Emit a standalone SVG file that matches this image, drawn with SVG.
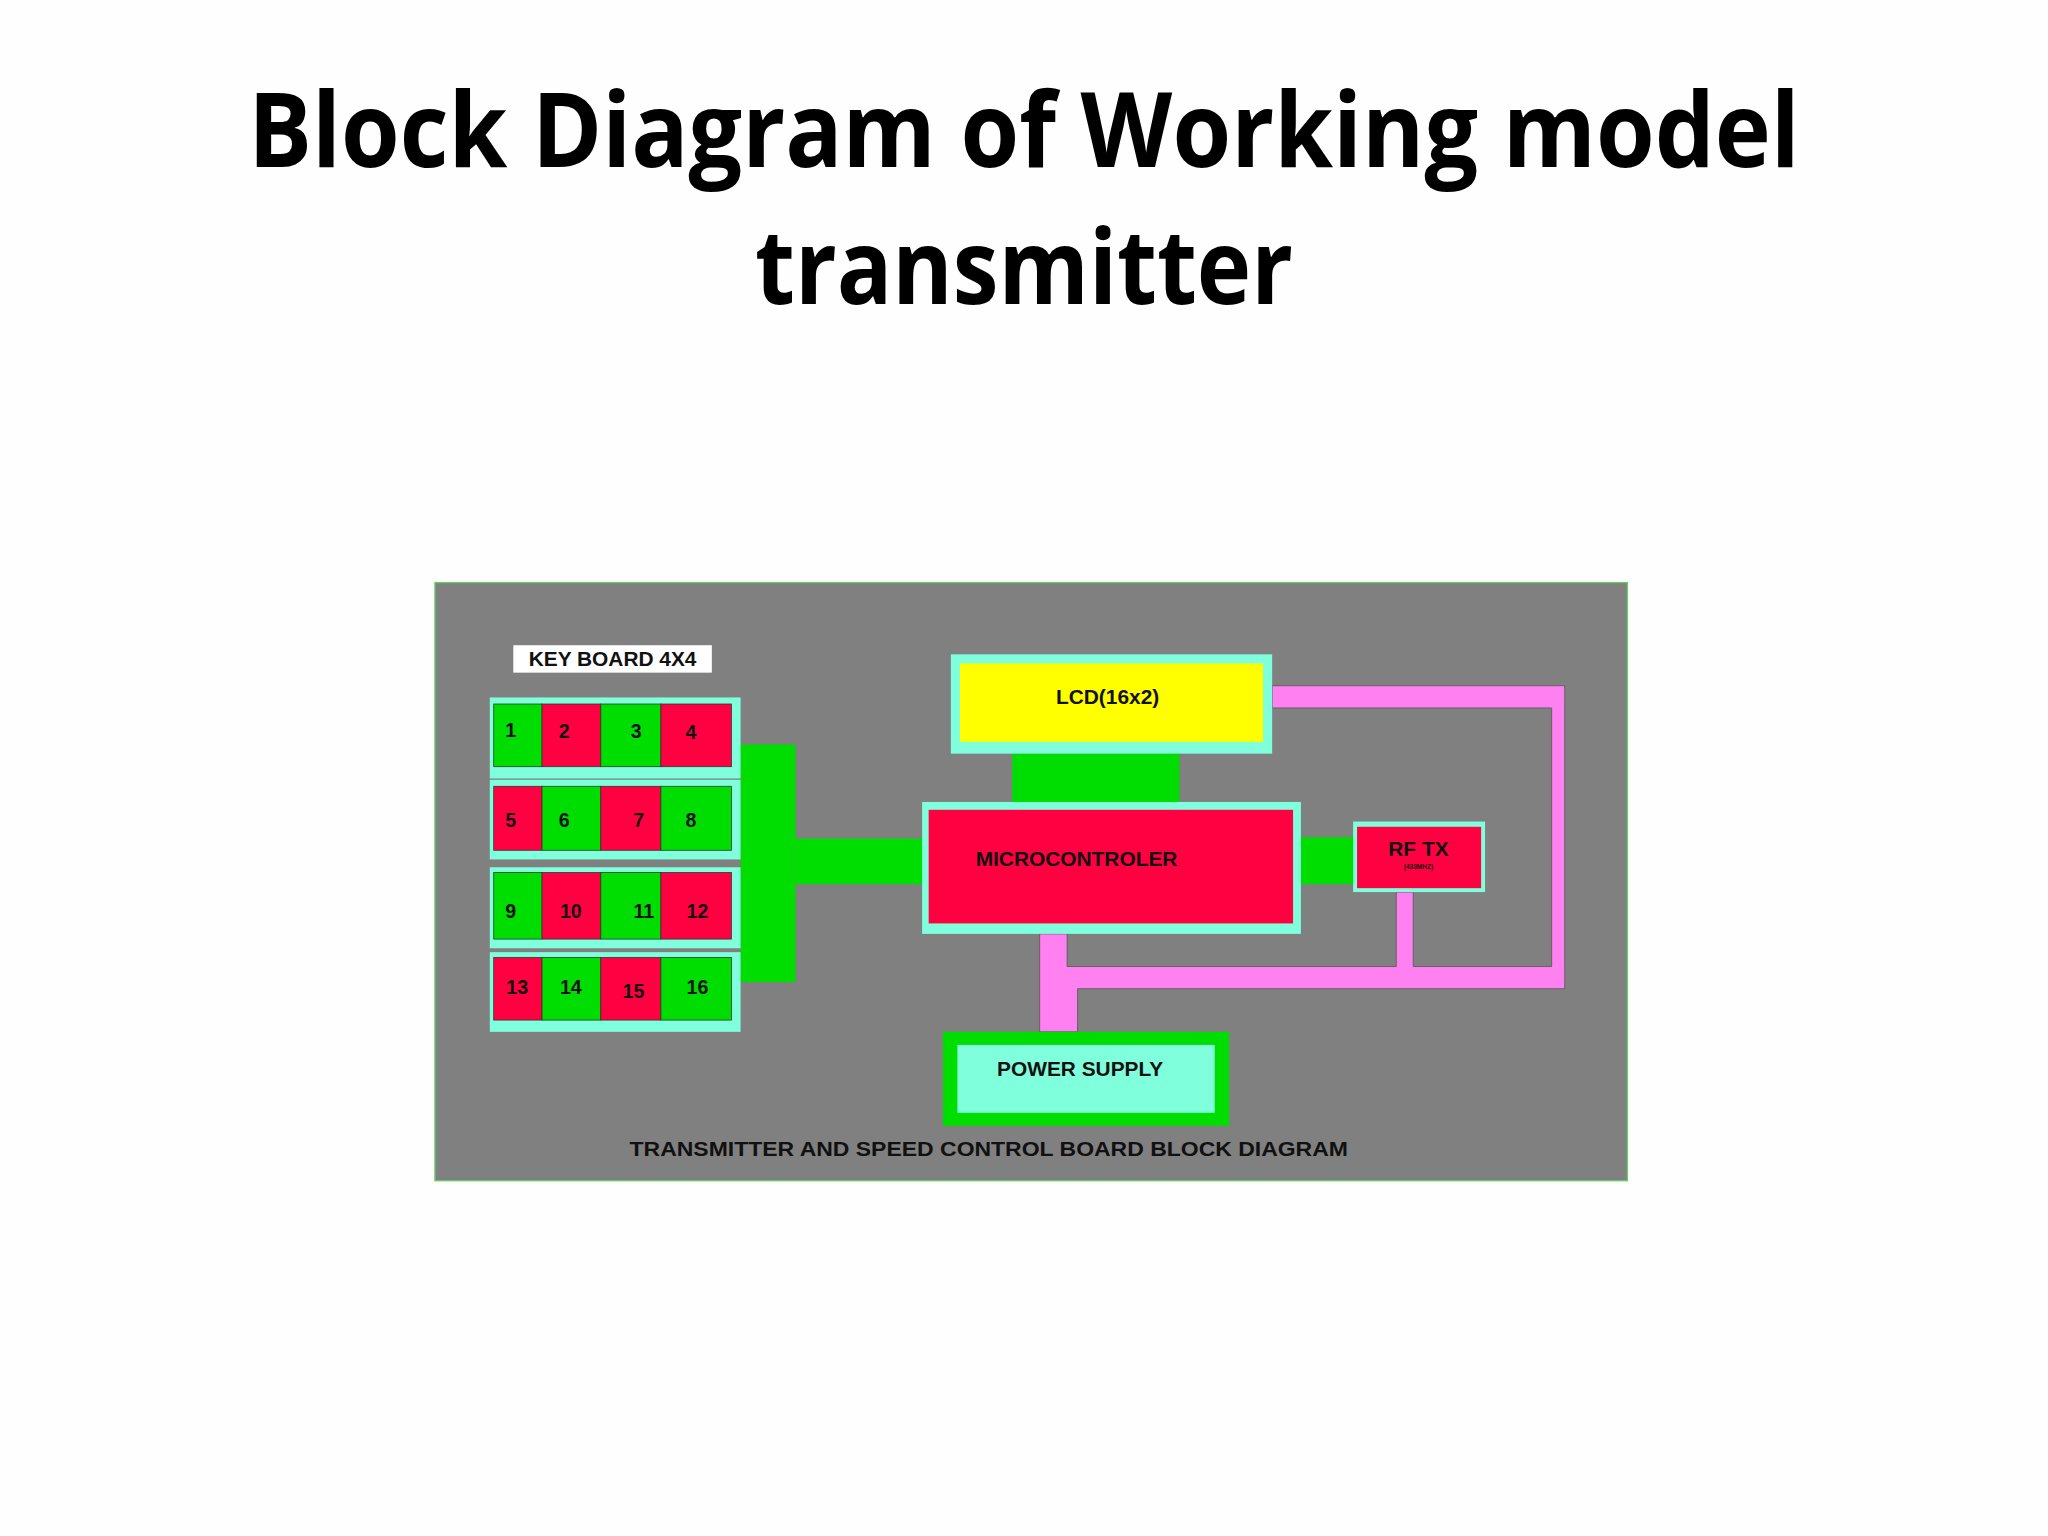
<svg xmlns="http://www.w3.org/2000/svg" width="2048" height="1536" viewBox="0 0 2048 1536">
<style>
.t{font-family:"Open Sans","Liberation Sans",sans-serif;font-weight:bold;fill:#000;text-anchor:middle}
.l{font-family:"Liberation Sans",Arial,sans-serif;font-weight:bold;fill:#111}
.g{fill:#00dd00}.r{fill:#ff0040}.a{fill:#80ffdd}.p{fill:#ff80f0}
.k{stroke:#333;stroke-width:0.6}
</style>
<rect width="2048" height="1536" fill="#fefefe"/>
<g transform="scale(1.30612)">
<g id="title">
<text class="t" x="784" y="128" font-size="80" textLength="1188" lengthAdjust="spacingAndGlyphs">Block Diagram of Working model</text>
<text class="t" x="784" y="233" font-size="80" textLength="412" lengthAdjust="spacingAndGlyphs">transmitter</text>
</g>
<rect id="panel" x="333" y="446" width="913" height="458" fill="#808080" stroke="#66cc66" stroke-width="1"/>
<g id="connectors">
<rect class="g" x="567" y="570" width="42" height="182"/>
<rect class="g" x="609" y="642" width="98" height="35"/>
<rect class="g" x="775" y="577" width="128" height="38"/>
<rect class="g" x="996" y="641" width="41" height="36"/>
<path class="p" d="M974 525H1198V757H825V790H796V715H817V740H1069V683H1082V740H1188V542H974Z" stroke="#555" stroke-width="0.6"/>
</g>
<g id="keyboard">
<rect x="393" y="494" width="152" height="21" fill="#fff"/>
<text class="l" x="469" y="510" font-size="16" text-anchor="middle">KEY BOARD 4X4</text>
<rect class="a" x="375" y="534" width="192" height="62"/>
<rect class="a" x="375" y="597" width="192" height="61"/>
<rect class="a" x="375" y="664" width="192" height="62"/>
<rect class="a" x="375" y="729" width="192" height="61"/>
<g class="k">
<rect class="g" x="378" y="539" width="37" height="48"/><rect class="r" x="415" y="539" width="45" height="48"/><rect class="g" x="460" y="539" width="46" height="48"/><rect class="r" x="506" y="539" width="54" height="48"/>
<rect class="r" x="378" y="602" width="37" height="49"/><rect class="g" x="415" y="602" width="45" height="49"/><rect class="r" x="460" y="602" width="46" height="49"/><rect class="g" x="506" y="602" width="54" height="49"/>
<rect class="g" x="378" y="668" width="37" height="51"/><rect class="r" x="415" y="668" width="45" height="51"/><rect class="g" x="460" y="668" width="46" height="51"/><rect class="r" x="506" y="668" width="54" height="51"/>
<rect class="r" x="378" y="733" width="37" height="48"/><rect class="g" x="415" y="733" width="45" height="48"/><rect class="r" x="460" y="733" width="46" height="48"/><rect class="g" x="506" y="733" width="54" height="48"/>
</g>
<g class="l" font-size="15" text-anchor="middle">
<text x="391" y="564">1</text><text x="432" y="565">2</text><text x="487" y="565">3</text><text x="529" y="566">4</text>
<text x="391" y="633">5</text><text x="432" y="633">6</text><text x="489" y="633">7</text><text x="529" y="633">8</text>
<text x="391" y="703">9</text><text x="437" y="703">10</text><text x="493" y="703">11</text><text x="534" y="703">12</text>
<text x="396" y="761">13</text><text x="437" y="761">14</text><text x="485" y="764">15</text><text x="534" y="761">16</text>
</g>
</g>
<g id="lcd">
<rect class="a" x="728" y="501" width="246" height="76"/>
<rect x="735" y="508" width="232" height="60" fill="#ffff00"/>
<text class="l" x="848" y="539" font-size="16" text-anchor="middle">LCD(16x2)</text>
</g>
<g id="mcu">
<rect class="a" x="706" y="614" width="290" height="101"/>
<rect class="r" x="711" y="620" width="279" height="87"/>
<text class="l" x="747" y="663" font-size="16">MICROCONTROLER</text>
</g>
<g id="rftx">
<rect class="a" x="1036" y="629" width="101" height="54"/>
<rect class="r" x="1039" y="633" width="95" height="47"/>
<text class="l" x="1086" y="655" font-size="16" text-anchor="middle">RF TX</text>
<text class="l" x="1086" y="665" font-size="5" text-anchor="middle" fill="#555">(433MHZ)</text>
</g>
<g id="power">
<rect class="g" x="722" y="790" width="219" height="72"/>
<rect class="a" x="733" y="800" width="197" height="52"/>
<text class="l" x="827" y="824" font-size="16" text-anchor="middle">POWER SUPPLY</text>
</g>
<text id="caption" class="l" x="757" y="885" font-size="16" text-anchor="middle" textLength="550" lengthAdjust="spacingAndGlyphs">TRANSMITTER AND SPEED CONTROL BOARD BLOCK DIAGRAM</text>
</g>
</svg>
